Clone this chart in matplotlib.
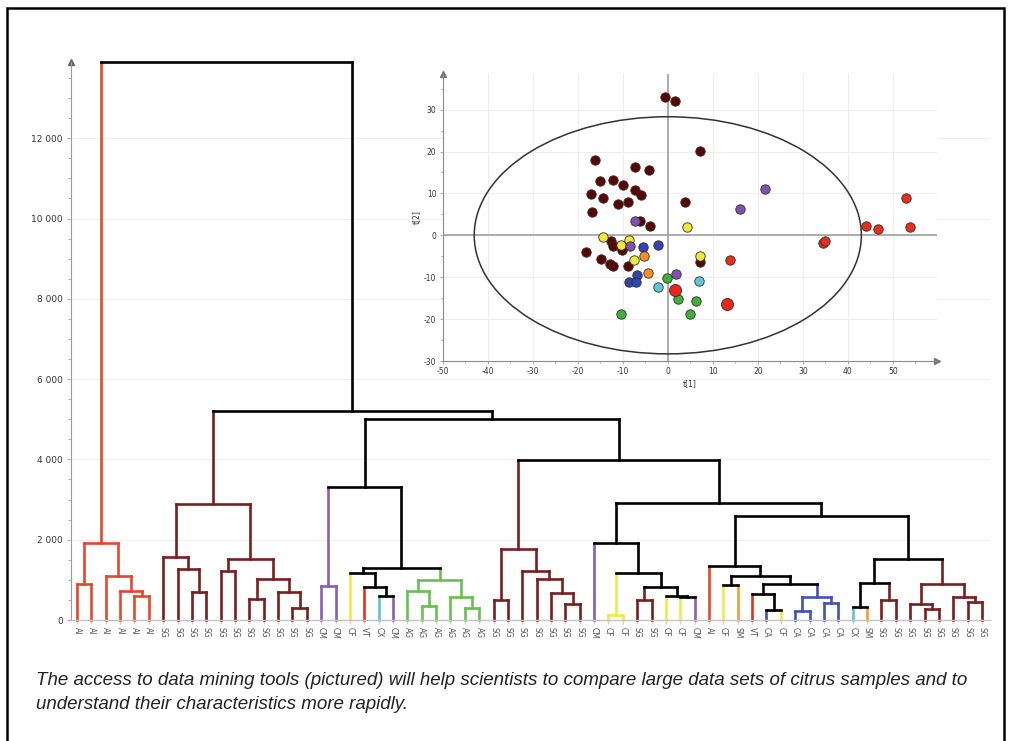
import numpy as np
import matplotlib
matplotlib.use('Agg')
from matplotlib import pyplot as plt
from matplotlib.patches import Ellipse, Rectangle
from matplotlib.ticker import MultipleLocator, FuncFormatter

plt.rcParams['axes.unicode_minus'] = False

# Leaves of the dendrogram, left to right
leaf_labels = (['AI'] * 6 + ['SG'] * 11 + ['CM', 'CM', 'CF', 'VT', 'CX', 'CM'] + ['AG'] * 6 + ['SG'] * 7
               + ['CM', 'CF', 'CF', 'SG', 'SG', 'CF', 'CF', 'CM', 'AI', 'CF', 'SM', 'VT', 'CA', 'CF',
                  'CA', 'CA', 'CA', 'CA', 'CX', 'SM'] + ['SG'] * 8)

# Merges like a linkage matrix: node ids 0..63 are leaves, merge k makes node 64+k
merge_left = [0, 4, 3, 2, 64,
              8, 7, 6, 10, 12, 15, 14, 73, 72, 71,
              17, 21, 20, 19, 24, 23, 27, 26, 84, 82, 79,
              29, 34, 33, 32, 31, 90,
              37, 39, 42, 41, 97, 96, 36,
              45, 48, 47, 50, 52, 106, 105, 103, 44,
              54, 56, 112, 59, 58, 62, 61, 116, 114, 111,
              102, 95, 89, 78, 68]
merge_right = [1, 5, 65, 66, 67,
               9, 69, 70, 11, 13, 16, 74, 75, 76, 77,
               18, 22, 80, 81, 25, 83, 28, 85, 86, 87, 88,
               30, 35, 91, 92, 93, 94,
               38, 40, 43, 98, 99, 100, 101,
               46, 49, 104, 51, 53, 107, 108, 109, 110,
               55, 57, 113, 60, 115, 63, 117, 118, 119, 120,
               121, 122, 123, 124, 125]
merge_height = [900, 600, 720, 1100, 1930,
                690, 1270, 1560, 1230, 520, 290, 705, 1020, 1520, 2890,
                850, 600, 815, 1180, 350, 720, 290, 565, 1000, 1300, 3320,
                500, 390, 665, 1010, 1220, 1770,
                125, 500, 565, 597, 815, 1180, 1925,
                870, 250, 640, 225, 430, 565, 888, 1095, 1345,
                330, 500, 930, 265, 400, 455, 580, 888, 1510, 2590,
                2905, 3985, 5000, 5210, 13900]

dendro_colors = {'AI': '#e5472e', 'SG': '#7a1e1e', 'CM': '#8b5db8', 'CF': '#f1e84e', 'VT': '#e3321f',
                 'CX': '#5cc3d6', 'AG': '#68c052', 'CA': '#4253b3', 'SM': '#f0a030'}
point_colors = {'SG': '#560808', 'CM': '#7d52b5', 'CF': '#eeea3c', 'CA': '#2f45b5', 'SM': '#f09228',
                'CX': '#5cc8dc', 'AG': '#3fb13a', 'AI': '#e5301e', 'VT': '#e8281c'}

# Score plot t[1] / t[2], one pair of lists per group
sg_x = [-0.7, 1.5, 7.1, -16.2, -7.2, -4.1, -15.1, -12.2, -10.0, -7.2, -6.0, -17.1, -14.3, -11.1,
        -8.9, 3.8, -16.9, -6.2, -3.9, -18.1, -12.7, -12.2, -10.2, -14.8, -12.8, -12.2, -8.9, 7.2]
sg_y = [33.1, 32.1, 20.2, 18.0, 16.2, 15.5, 12.9, 13.1, 12.1, 10.7, 9.7, 9.8, 9.0, 7.5,
        7.9, 8.0, 5.5, 3.5, 2.3, -4.0, -1.4, -2.5, -3.4, -5.6, -6.8, -7.4, -7.4, -6.3]
cf_x = [-14.3, -10.5, -8.6, -7.5, 4.3, 7.2]
cf_y = [-0.5, -2.2, -1.2, -5.8, 2.0, -5.0]
cm_x = [-7.2, -8.3, 1.9, 21.7, 16.1]
cm_y = [3.3, -2.6, -9.2, 11.0, 6.3]
ca_x = [-5.5, -2.1, -6.9, -8.7, -7.1]
ca_y = [-2.8, -2.4, -9.5, -11.1, -11.1]
sm_x = [-5.3, -4.3]
sm_y = [-5.0, -9.1]
cx_x = [-2.2, 7.0]
cx_y = [-12.3, -11.0]
ag_x = [-0.1, 2.3, 6.3, 4.9, -10.5]
ag_y = [-10.3, -15.3, -15.7, -18.9, -18.9]
vt_x = [1.5, 13.1]
vt_y = [-13.1, -16.4]
ai_x = [13.9, 34.4, 35.0, 44.1, 46.7, 53.0, 53.7]
ai_y = [-6.0, -1.8, -1.3, 2.3, 1.5, 8.9, 2.1]

caption_lines = ['The access to data mining tools (pictured) will help scientists to compare large data sets of citrus samples and to',
                 'understand their characteristics more rapidly.']

W, H = 1010, 741
fig = plt.figure(figsize=(W / 100, H / 100), dpi=100)

# ---- dendrogram ----
ax = fig.add_axes([71 / W, 1 - 620 / H, (990 - 71) / W, (620 - 62) / H])
n = len(leaf_labels)
node_x = list(range(n))
node_h = [0.0] * n
node_c = [dendro_colors[l] for l in leaf_labels]
horiz = []
for a, b, h in zip(merge_left, merge_right, merge_height):
    c = node_c[a] if node_c[a] == node_c[b] else 'black'
    ax.plot([node_x[a], node_x[a]], [node_h[a], h], color=node_c[a], lw=1.9, clip_on=False,
            solid_capstyle='projecting', zorder=2)
    ax.plot([node_x[b], node_x[b]], [node_h[b], h], color=node_c[b], lw=1.9, clip_on=False,
            solid_capstyle='projecting', zorder=2)
    horiz.append(([node_x[a], node_x[b]], [h, h], c))
    node_x.append((node_x[a] + node_x[b]) / 2)
    node_h.append(h)
    node_c.append(c)
for xs, ys, c in horiz:
    ax.plot(xs, ys, color=c, lw=1.9, clip_on=False, solid_capstyle='projecting', zorder=3)

ax.set_xlim(-0.42, 63.56)
ax.set_ylim(0, 13900)
for s in ['top', 'right']:
    ax.spines[s].set_visible(False)
ax.spines['left'].set_color('#9a9a9a')
ax.spines['left'].set_linewidth(0.8)
ax.spines['bottom'].set_color('#c4c4c4')
ax.spines['bottom'].set_linewidth(1.0)
ax.yaxis.set_major_locator(MultipleLocator(2000))
ax.yaxis.set_minor_locator(MultipleLocator(500))
ax.yaxis.set_major_formatter(FuncFormatter(lambda v, p: '{:,.0f}'.format(v).replace(',', ' ')))
ax.tick_params(axis='y', which='both', colors='#9a9a9a', labelcolor='#333333', labelsize=6.5,
               length=3, width=0.6, pad=3)
ax.tick_params(axis='y', which='minor', length=2)
ax.set_xticks(range(n))
ax.set_xticklabels(leaf_labels, rotation=270, fontsize=5.5, color='#555555')
ax.tick_params(axis='x', colors='#c4c4c4', labelcolor='#555555', length=3, width=0.6, pad=2)
ax.yaxis.grid(True, color='#f1f1f1', lw=0.8)
ax.set_axisbelow(True)
ax.plot([0], [1.0], marker='^', ms=5, color='#666666', transform=ax.transAxes, clip_on=False)

# ---- score plot inset ----
ins = fig.add_axes([442.7 / W, 1 - 361 / H, (937 - 442.7) / W, (361 - 74) / H])
ins.set_xlim(-50, 59.8)
ins.set_ylim(-30, 38.5)
for s in ['top', 'right']:
    ins.spines[s].set_visible(False)
for s in ['left', 'bottom']:
    ins.spines[s].set_color('#8a8a8a')
    ins.spines[s].set_linewidth(0.8)
ins.xaxis.set_major_locator(MultipleLocator(10))
ins.xaxis.set_minor_locator(MultipleLocator(5))
ins.yaxis.set_major_locator(MultipleLocator(10))
ins.yaxis.set_minor_locator(MultipleLocator(5))
ins.tick_params(which='both', colors='#8a8a8a', labelcolor='#333333', labelsize=5.5, length=2.5,
                width=0.5, pad=2)
ins.tick_params(which='minor', length=1.5)
ins.grid(True, color='#eeeeee', lw=0.7)
ins.set_axisbelow(True)
ins.axhline(0, color='#a0a0a0', lw=1.2, zorder=1)
ins.axvline(0, color='#a0a0a0', lw=1.2, zorder=1)
ins.add_patch(Ellipse((0, 0), 86, 56.6, fill=False, edgecolor='#333333', lw=1.1, zorder=2))
ins.plot([1], [0], marker='>', ms=4, color='#777777', transform=ins.transAxes, clip_on=False)
ins.plot([0], [1], marker='^', ms=4, color='#777777', transform=ins.transAxes, clip_on=False)
ins.set_xlabel('t[1]', fontsize=5.5, color='#333333', labelpad=2)
ins.set_ylabel('t[2]', fontsize=5.5, color='#333333', labelpad=2)

groups = [(sg_x, sg_y, 'SG', 46), (cf_x, cf_y, 'CF', 46), (cm_x, cm_y, 'CM', 46), (ca_x, ca_y, 'CA', 46),
          (sm_x, sm_y, 'SM', 46), (cx_x, cx_y, 'CX', 46), (ag_x, ag_y, 'AG', 46), (vt_x, vt_y, 'VT', 75),
          (ai_x, ai_y, 'AI', 46)]
for gx, gy, g, sz in groups:
    ins.scatter(gx, gy, s=sz, color=point_colors[g], edgecolors='#3a2a22', linewidths=0.6, zorder=4)

# ---- frame and caption ----
fig.add_artist(Rectangle((7 / W, -0.02), (1004 - 7) / W, 1.02 - 8 / H, transform=fig.transFigure,
                         fill=False, edgecolor='black', lw=1.8))
for line, base in zip(caption_lines, [685, 709]):
    fig.text(36 / W, 1 - base / H, line, fontsize=13.5, style='italic', color='#222222',
             family='Liberation Sans', va='baseline')

fig.savefig('out.png', dpi=100)
